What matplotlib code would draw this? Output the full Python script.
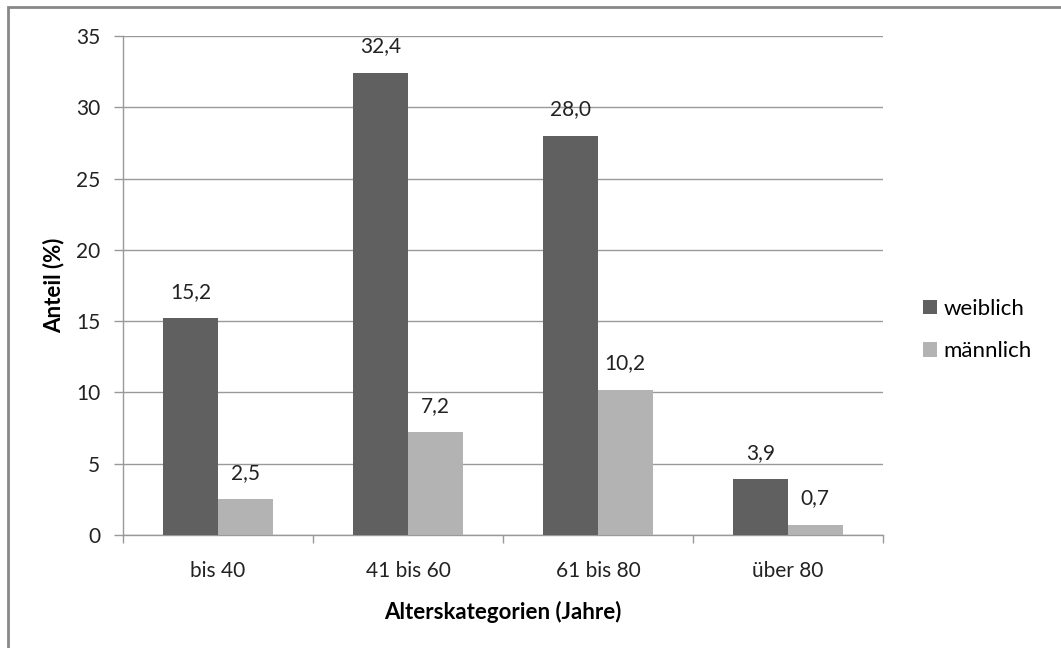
import numpy as np
import matplotlib.pyplot as plt
from matplotlib.patches import Rectangle

# Data
categories = ['bis 40', '41 bis 60', '61 bis 80', 'über 80']
weiblich = [15.2, 32.4, 28.0, 3.9]
maennlich = [2.5, 7.2, 10.2, 0.7]
series_names = ['weiblich', 'männlich']
colors = ['#606060', '#b3b3b3']

plt.rcParams['font.family'] = ['Lato', 'DejaVu Sans']

W, H = 1061, 648
fig = plt.figure(figsize=(W / 100, H / 100), dpi=100)

# outer chart frame (only left/top visible in the crop)
fig.patches.append(Rectangle((8 / W, -0.1), 1.2, (H - 7) / H + 0.1, transform=fig.transFigure,
                             fill=False, edgecolor='#888888', linewidth=2))

ax = fig.add_axes([123 / W, (H - 535) / H, (883 - 123) / W, (535 - 36) / H])

x = np.arange(len(categories))
bw = 0.287
bars_w = ax.bar(x - bw / 2, weiblich, bw, color=colors[0], label=series_names[0], zorder=3)
bars_m = ax.bar(x + bw / 2, maennlich, bw, color=colors[1], label=series_names[1], zorder=3)

for bars, vals in [(bars_w, weiblich), (bars_m, maennlich)]:
    for b, v in zip(bars, vals):
        ax.annotate(f'{v:.1f}'.replace('.', ','), (b.get_x() + b.get_width() / 2, v),
                    xytext=(0, 12), textcoords='offset points', ha='center', va='bottom',
                    fontsize=15, color='#222222')

ax.set_xlim(-0.5, 3.5)
ax.set_ylim(0, 35)
ax.set_yticks(range(0, 36, 5))
ax.set_xticks(x)
ax.set_xticklabels(categories)
ax.set_xticks(np.arange(-0.5, 4.0, 1), minor=True)
ax.tick_params(axis='x', which='major', length=0, pad=19, labelsize=15, labelcolor='#222222')
ax.tick_params(axis='x', which='minor', length=5.8, width=1, color='#999999', direction='out')
ax.tick_params(axis='y', length=6.5, width=1, color='#999999', pad=10, labelsize=15, labelcolor='#222222')

ax.grid(axis='y', color='#999999', linewidth=1, zorder=0)
for s in ['top', 'right']:
    ax.spines[s].set_visible(False)
for s in ['left', 'bottom']:
    ax.spines[s].set_color('#999999')
    ax.spines[s].set_linewidth(1)

ax.set_ylabel('Anteil (%)', fontsize=16, fontweight='bold', labelpad=8)
ax.set_xlabel('Alterskategorien (Jahre)', fontsize=16, fontweight='bold', labelpad=14)

leg = ax.legend(loc='center left', bbox_to_anchor=((923 - 123) / 760, (535 - 330) / 499),
                frameon=False, fontsize=16, borderpad=0, borderaxespad=0,
                handlelength=0.63, handleheight=0.63, handletextpad=0.3, labelspacing=1.0)

fig.savefig('out.png', dpi=100)
